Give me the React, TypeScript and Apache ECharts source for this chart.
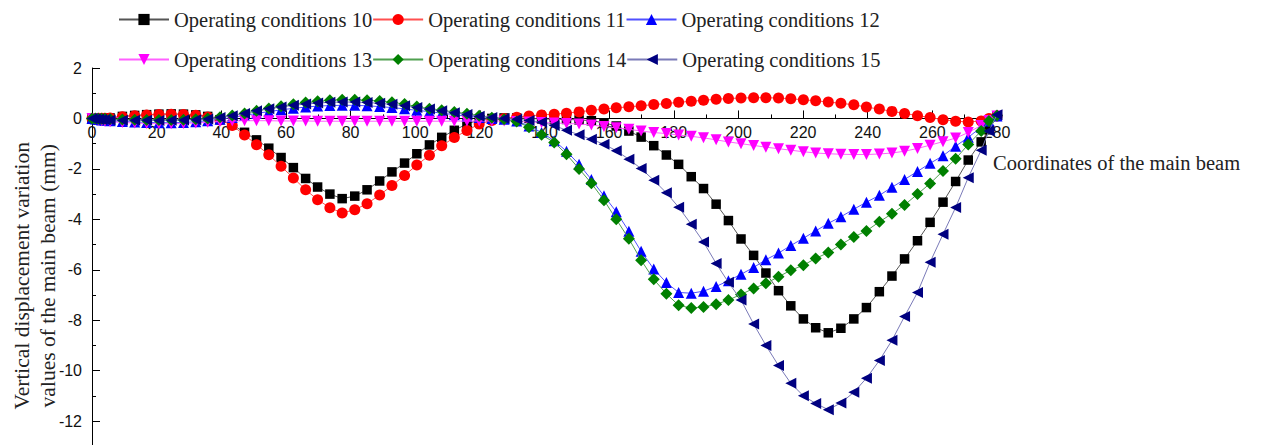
import React, { useEffect, useRef } from "react";
import * as echarts from "echarts";

// Coordinates along the main beam (x values of the measurement nodes)
const X = [
  0, 1, 2, 3, 4, 5.6, 9.4, 13.2, 16.9, 20.7, 24.5, 28.3, 32.1, 35.8, 39.6, 43.4, 47.2, 50.9, 54.7, 58.5,
  62.3, 66.1, 69.8, 73.6, 77.4, 81.3, 85.1, 89.0, 92.8, 96.7, 100.5, 104.4, 108.2, 112.1, 116.0, 119.8, 123.7, 127.5, 131.4, 135.2,
  139.1, 143.0, 146.8, 150.7, 154.5, 158.4, 162.2, 166.1, 169.9, 173.8, 177.7, 181.5, 185.4, 189.2, 193.1, 196.9, 200.8, 204.7, 208.5, 212.4,
  216.2, 220.1, 223.9, 227.8, 231.7, 235.7, 239.6, 243.6, 247.5, 251.4, 255.4, 259.3, 263.3, 267.2, 271.1, 275.1, 277.5, 280,
];

const C10 = [
  0, 0, 0.01, 0.01, 0.01, 0.02, 0.08, 0.12, 0.15, 0.17, 0.18, 0.17, 0.14, 0.08, -0.05, -0.25, -0.55, -0.85, -1.18, -1.55,
  -1.95, -2.38, -2.72, -3.0, -3.18, -3.08, -2.83, -2.48, -2.12, -1.77, -1.4, -1.05, -0.75, -0.47, -0.22, -0.06, 0.0, 0.02, 0.02, 0.0,
  -0.02, -0.03, -0.04, -0.06, -0.09, -0.17, -0.3, -0.5, -0.74, -1.08, -1.45, -1.82, -2.31, -2.78, -3.4, -4.05, -4.78, -5.43, -6.13, -6.83,
  -7.43, -7.95, -8.3, -8.5, -8.32, -7.95, -7.5, -6.87, -6.25, -5.57, -4.85, -4.12, -3.32, -2.5, -1.65, -0.93, -0.45, 0.1,
];

const C11 = [
  0, 0, 0.01, 0.01, 0.01, 0.02, 0.07, 0.11, 0.14, 0.16, 0.17, 0.16, 0.13, 0.06, -0.06, -0.28, -0.66, -1.04, -1.44, -1.9,
  -2.36, -2.83, -3.22, -3.54, -3.75, -3.62, -3.38, -3.04, -2.66, -2.26, -1.85, -1.46, -1.08, -0.76, -0.48, -0.22, -0.08, 0.0, 0.05, 0.1,
  0.14, 0.17, 0.21, 0.26, 0.32, 0.37, 0.42, 0.46, 0.5, 0.55, 0.59, 0.64, 0.68, 0.72, 0.76, 0.79, 0.81, 0.82, 0.82, 0.81,
  0.78, 0.74, 0.7, 0.65, 0.6, 0.54, 0.45, 0.37, 0.28, 0.2, 0.11, 0.04, -0.05, -0.11, -0.14, -0.1, 0.0, 0.1,
];

const C12 = [
  0, -0.02, -0.04, -0.06, -0.07, -0.09, -0.12, -0.14, -0.16, -0.17, -0.17, -0.16, -0.13, -0.09, -0.03, 0.04, 0.12, 0.2, 0.27, 0.34,
  0.4, 0.45, 0.49, 0.51, 0.52, 0.52, 0.5, 0.47, 0.43, 0.38, 0.32, 0.27, 0.21, 0.15, 0.09, 0.04, 0.0, -0.03, -0.1, -0.3,
  -0.56, -0.88, -1.3, -1.82, -2.42, -3.07, -3.7, -4.47, -5.27, -5.97, -6.51, -6.9, -6.93, -6.85, -6.66, -6.44, -6.18, -5.91, -5.6, -5.34,
  -5.04, -4.75, -4.46, -4.16, -3.9, -3.6, -3.32, -3.05, -2.73, -2.42, -2.1, -1.78, -1.48, -1.1, -0.75, -0.35, -0.1, 0.1,
];

const C13 = [
  0, -0.03, -0.06, -0.09, -0.11, -0.13, -0.16, -0.18, -0.2, -0.21, -0.21, -0.2, -0.18, -0.15, -0.12, -0.1, -0.09, -0.09, -0.09, -0.1,
  -0.1, -0.1, -0.11, -0.11, -0.11, -0.11, -0.11, -0.11, -0.11, -0.11, -0.11, -0.11, -0.11, -0.11, -0.1, -0.1, -0.1, -0.1, -0.12, -0.14,
  -0.16, -0.18, -0.2, -0.22, -0.26, -0.32, -0.37, -0.43, -0.5, -0.56, -0.6, -0.66, -0.71, -0.77, -0.85, -0.93, -1.0, -1.07, -1.14, -1.2,
  -1.26, -1.32, -1.37, -1.4, -1.42, -1.43, -1.43, -1.41, -1.37, -1.3, -1.19, -1.06, -0.92, -0.78, -0.56, -0.28, -0.08, 0.1,
];

const C14 = [
  0, 0, -0.01, -0.01, -0.01, -0.02, -0.04, -0.05, -0.06, -0.06, -0.06, -0.05, -0.03, 0.0, 0.05, 0.12, 0.2, 0.3, 0.39, 0.48,
  0.56, 0.63, 0.68, 0.72, 0.74, 0.74, 0.72, 0.69, 0.64, 0.57, 0.47, 0.38, 0.32, 0.26, 0.19, 0.11, 0.03, -0.03, -0.12, -0.35,
  -0.65, -0.95, -1.42, -2.0, -2.57, -3.24, -4.0, -4.77, -5.62, -6.38, -6.95, -7.41, -7.52, -7.48, -7.37, -7.2, -6.98, -6.74, -6.54, -6.28,
  -6.02, -5.82, -5.55, -5.32, -5.0, -4.7, -4.46, -4.1, -3.78, -3.43, -3.0, -2.58, -2.08, -1.6, -1.03, -0.5, -0.1, 0.12,
];

const C15 = [
  0, -0.02, -0.03, -0.04, -0.05, -0.06, -0.07, -0.07, -0.07, -0.08, -0.07, -0.06, -0.05, -0.02, 0.04, 0.11, 0.2, 0.3, 0.38, 0.45,
  0.52, 0.57, 0.61, 0.64, 0.65, 0.65, 0.63, 0.6, 0.56, 0.5, 0.43, 0.37, 0.3, 0.23, 0.16, 0.09, 0.04, 0.0, -0.03, -0.08,
  -0.15, -0.28, -0.47, -0.65, -0.83, -1.02, -1.28, -1.62, -1.99, -2.45, -2.95, -3.52, -4.2, -4.9, -5.75, -6.5, -7.2, -8.15, -9.0, -9.8,
  -10.5, -11.0, -11.3, -11.55, -11.28, -10.86, -10.3, -9.6, -8.8, -7.85, -6.9, -5.7, -4.59, -3.53, -2.35, -1.26, -0.5, 0.15,
];

const NAMES = [
  "Operating conditions 10",
  "Operating conditions 11",
  "Operating conditions 12",
  "Operating conditions 13",
  "Operating conditions 14",
  "Operating conditions 15",
];
const VALUES = [C10, C11, C12, C13, C14, C15];
const COLORS = ["#000000", "#ff0000", "#0000ff", "#ff00ff", "#008000", "#000080"];
const LINE_COLORS = ["#555555", "#ff5050", "#5050ff", "#ff60ff", "#50a050", "#7a7ab8"];
const SYMBOLS = ["rect", "circle", "triangle", "triangle", "diamond", "triangle"];
const ROTATES = [0, 0, 0, 180, 0, 90];
const SIZES = [9.5, 11, 11, 11, 12, 11];

const Y_MIN = -14;
const Y_MAX = 2;

const SERIF = "'Liberation Serif', 'Times New Roman', serif";
const SANS = "'Liberation Sans', Arial, sans-serif";

export default function App() {
  const ref = useRef<HTMLDivElement>(null);

  useEffect(() => {
    if (!ref.current) return;
    const chart = echarts.init(ref.current, undefined, { renderer: "svg" });

    const gridTop = 68;
    const gridHeight = 403.5;
    // shift the x axis from the grid bottom up to the value 0 of the y axis
    const zeroOffset = -(gridHeight * (0 - Y_MIN)) / (Y_MAX - Y_MIN);

    const series = NAMES.map((name, s) => ({
      name,
      type: "line",
      data: X.map((x, i) => [x, VALUES[s][i]]),
      symbol: SYMBOLS[s],
      symbolRotate: ROTATES[s],
      symbolSize: SIZES[s],
      showAllSymbol: true,
      itemStyle: { color: COLORS[s] },
      lineStyle: { color: LINE_COLORS[s], width: 1 },
      emphasis: { disabled: true },
      z: 2 + s,
    }));

    const legendCommon = {
      left: 113,
      orient: "horizontal",
      itemWidth: 50,
      itemHeight: 14,
      itemGap: 0,
      textStyle: { fontFamily: SERIF, fontSize: 20.5, color: "#222" },
      selectedMode: false,
    };

    chart.setOption({
      animation: false,
      backgroundColor: "#ffffff",
      legend: [
        { ...legendCommon, top: 4, data: NAMES.slice(0, 3) },
        { ...legendCommon, top: 44, data: NAMES.slice(3, 6) },
      ],
      grid: {
        left: 92,
        top: gridTop,
        width: 905,
        height: gridHeight,
        containLabel: false,
        outerBoundsMode: "none",
      },
      xAxis: {
        type: "value",
        min: 0,
        max: 280,
        interval: 20,
        position: "bottom",
        offset: zeroOffset,
        name: "Coordinates of the main beam",
        nameLocation: "end",
        nameGap: -4,
        nameMoveOverlap: false,
        nameTextStyle: {
          fontFamily: SERIF,
          fontSize: 20.5,
          color: "#222",
          align: "left",
          verticalAlign: "top",
          padding: [34, 0, 0, 0],
        },
        axisLine: { show: true, onZero: false, lineStyle: { color: "#000", width: 1 } },
        axisTick: { show: true, inside: true, length: 8, lineStyle: { color: "#000" } },
        minorTick: { show: true, splitNumber: 2, length: 4, lineStyle: { color: "#000" } },
        axisLabel: { fontFamily: SANS, fontSize: 16, color: "#111", margin: 6 },
        splitLine: { show: false },
      },
      yAxis: {
        type: "value",
        min: Y_MIN,
        max: Y_MAX,
        interval: 2,
        name: "Vertical displacement variation\nvalues of the main beam (mm)",
        nameLocation: "middle",
        nameRotate: 90,
        nameGap: 31,
        nameMoveOverlap: false,
        nameTextStyle: {
          fontFamily: SERIF,
          fontSize: 21.5,
          color: "#222",
          lineHeight: 26,
          padding: [0, 12, 0, 0],
        },
        axisLine: { show: true, onZero: false, lineStyle: { color: "#000", width: 1 } },
        axisTick: { show: true, inside: true, length: 8, lineStyle: { color: "#000" } },
        minorTick: { show: true, splitNumber: 2, length: 4, lineStyle: { color: "#000" } },
        axisLabel: {
          fontFamily: SANS,
          fontSize: 16,
          color: "#111",
          margin: 10,
          formatter: (v: number) => (v === Y_MIN ? "" : String(v)),
        },
        splitLine: { show: false },
      },
      series,
    });

    return () => chart.dispose();
  }, []);

  return (
    <div
      ref={ref}
      style={{ position: "fixed", left: 0, top: 0, width: 1267, height: 445, background: "#fff" }}
    />
  );
}
